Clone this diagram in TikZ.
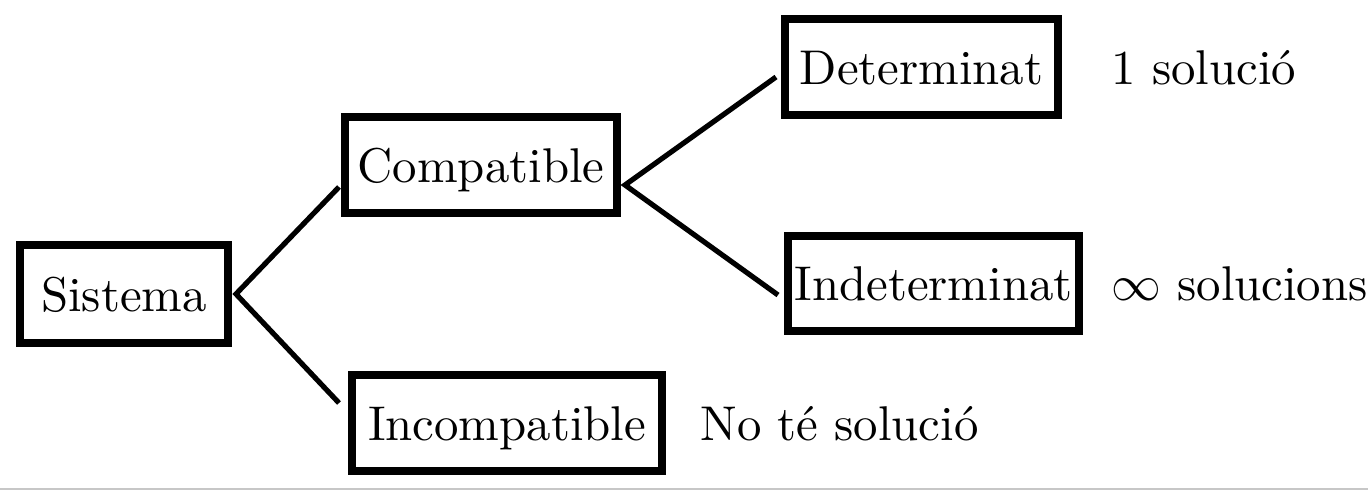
\documentclass[tikz,border=0pt]{standalone}
\usepackage{fontspec}
\setmainfont{lmroman10-regular}[Extension=.otf]
\usetikzlibrary{calc}
\begin{document}
\begin{tikzpicture}[x=0.5pt,y=-0.5pt,
  txt/.style={font=\fontsize{24.4}{28}\selectfont, text height=17pt, text depth=0pt},
  box/.style={txt, draw, line width=4pt, inner sep=0pt},
  lbl/.style={txt, anchor=west, inner sep=0pt},
  conn/.style={line width=2.6pt}]
\useasboundingbox (0,0) rectangle (1368,493);
\node[box, minimum width=104pt, minimum height=49pt] (sis) at (124,294) {Sistema};
\node[box, minimum width=136pt, minimum height=48pt] (comp) at (481,165) {Compatible};
\node[box, minimum width=136.5pt, minimum height=48pt] (det) at (921.5,67) {Determinat};
\node[box, minimum width=145.5pt, minimum height=47.5pt] (ind) at (933.5,283.5) {Indeterminat};
\node[box, minimum width=155pt, minimum height=48pt] (inc) at (507,423) {Incompatible};
\node[lbl] (l1) at (1111,67) {1 solució};
\node[lbl] (l2) at (1111,283.5) {$\infty$ solucions};
\node[lbl] (l3) at (700,423) {No té solució};
\coordinate (s0) at ($(sis.east)+(4,0)$);
\coordinate (c1) at ($(comp.west)+(-2,22)$);
\coordinate (c2) at ($(inc.west)+(-9,-20)$);
\coordinate (c3) at ($(comp.east)+(4,20)$);
\coordinate (c4) at ($(det.west)+(-5,10)$);
\coordinate (c5) at ($(ind.west)+(-6,11.5)$);
\draw[conn] (c1) -- (s0) -- (c2);
\draw[conn] (c4) -- (c3) -- (c5);
\coordinate (g0) at (0,489);
\coordinate (g1) at (1368,489);
\draw[black!22, line width=1pt] (g0) -- (g1);
\end{tikzpicture}
\end{document}
